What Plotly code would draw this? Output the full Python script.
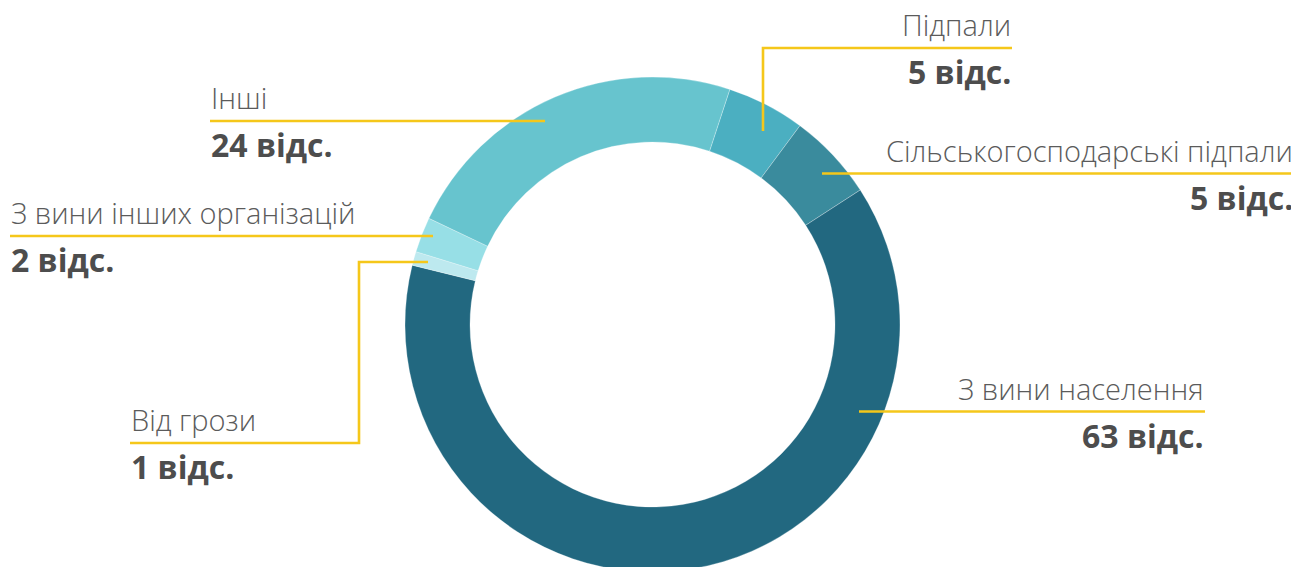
import plotly.graph_objects as go

# ---------------- data ----------------
categories = ["Підпали", "Сільськогосподарські підпали", "З вини населення",
              "Від грози", "З вини інших організацій", "Інші"]
shares = [5.1, 5.7, 63.0, 0.9, 2.3, 23.0]          # slice sizes read from the ring
value_labels = ["5 відс.", "5 відс.", "63 відс.", "1 відс.", "2 відс.", "24 відс."]
colors = ["#4bafc1", "#3a8b9d", "#226880", "#bde9ef", "#97dfe6", "#67c4ce"]

# ---------------- layout (window-pixel geometry) ----------------
W, H = 1299, 567
OFF = 8                      # page body margin of the exported html
CX, CY, R = 652.5, 324.5, 247.5
HOLE = 182.5 / 247.5

# leader definitions: path points (first = dot), text anchor x, side
leaders = [
    dict(pts=[(763, 131), (763, 48), (1012, 48)], tx=1012, align="right"),
    dict(pts=[(822, 173.5), (1295, 173.5)], tx=1294, align="right"),
    dict(pts=[(859, 411.5), (1205, 411.5)], tx=1205, align="right"),
    dict(pts=[(428, 262), (359, 262), (359, 443), (130, 443)], tx=130, align="left"),
    dict(pts=[(433, 236), (10, 236)], tx=10, align="left"),
    dict(pts=[(545, 121), (210, 121)], tx=210, align="left"),
]

LINE_COLOR = "#f5c71a"
LABEL_COLOR = "#5b5b5b"
VALUE_COLOR = "#4d4d4d"
FONT = "Open Sans, Noto Sans, sans-serif"
LABEL_SIZE = 29
VALUE_SIZE = 32

fig = go.Figure()

fig.add_trace(go.Pie(
    labels=categories,
    values=shares,
    sort=False,
    direction="clockwise",
    rotation=18.2,
    hole=HOLE,
    marker=dict(colors=colors, line=dict(color="rgba(255,255,255,0.35)", width=0.8)),
    textinfo="none",
    hoverinfo="label+value",
    showlegend=False,
    domain=dict(x=[(CX - R - OFF) / W, (CX + R - OFF) / W],
                y=[1 - (CY + R - OFF) / H, 1 - (CY - R - OFF) / H]),
))

shapes = []
annotations = []
dot_x, dot_y = [], []
for i, ld in enumerate(leaders):
    pts = ld["pts"]
    path = "M " + " L ".join(f"{x},{y}" for x, y in pts)
    shapes.append(dict(type="path", path=path, xref="x", yref="y",
                       line=dict(color=LINE_COLOR, width=2.6)))
    dot_x.append(pts[0][0])
    dot_y.append(pts[0][1])
    line_y = pts[-1][1]
    label_base = line_y - 12
    value_base = line_y + 36
    annotations.append(dict(
        x=ld["tx"], y=label_base - 0.39 * LABEL_SIZE, xref="x", yref="y",
        text=categories[i], showarrow=False, xanchor=ld["align"], yanchor="middle",
        font=dict(family=FONT, size=LABEL_SIZE, color=LABEL_COLOR, weight=300),
        borderpad=0))
    annotations.append(dict(
        x=ld["tx"], y=value_base - 0.39 * VALUE_SIZE, xref="x", yref="y",
        text=value_labels[i], showarrow=False, xanchor=ld["align"], yanchor="middle",
        font=dict(family=FONT, size=VALUE_SIZE, color=VALUE_COLOR, weight=700),
        borderpad=0))

fig.add_trace(go.Scatter(
    x=dot_x, y=dot_y, mode="markers",
    marker=dict(color=LINE_COLOR, size=12),
    hoverinfo="skip", showlegend=False))

fig.update_layout(
    width=W, height=H,
    margin=dict(l=0, r=0, t=0, b=0),
    paper_bgcolor="white", plot_bgcolor="rgba(0,0,0,0)",
    xaxis=dict(range=[OFF, OFF + W], visible=False, fixedrange=True, domain=[0, 1]),
    yaxis=dict(range=[OFF + H, OFF], visible=False, fixedrange=True, domain=[0, 1]),
    shapes=shapes,
    annotations=annotations,
    showlegend=False,
)

fig.write_html("out.html")
